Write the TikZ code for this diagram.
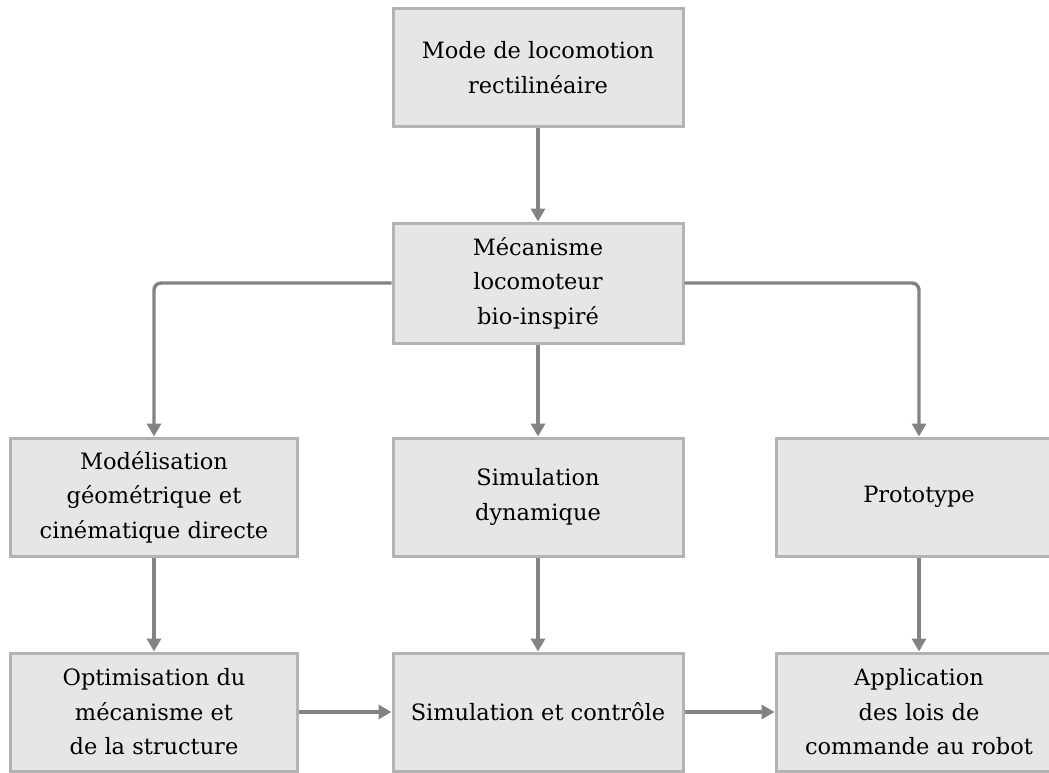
\documentclass[tikz,border=0pt]{standalone}
\usepackage{fontspec}
\setmainfont{DejaVu Serif}
\usetikzlibrary{arrows.meta}
\definecolor{boxfill}{HTML}{E6E6E6}
\definecolor{boxline}{HTML}{B3B3B3}
\definecolor{arrowcol}{HTML}{838383}
\tikzset{
  stepbox/.style={draw=boxline, fill=boxfill, line width=3pt, inner sep=0pt,
    align=center, font=\fontsize{22.5}{34.5}\selectfont},
  wideL/.style={minimum width=287pt},
  wideM/.style={minimum width=290pt},
  wideR/.style={minimum width=286pt},
  conn/.style={draw=arrowcol, line width=3.4pt, rounded corners=7pt,
    -{Triangle[length=13pt,width=14pt]}}
}
\begin{document}
\begin{tikzpicture}[x=1pt,y=-1pt]
\useasboundingbox (0,0) rectangle (1049,773);
\node[stepbox, wideM, minimum height=118.5pt] (top) at (538,67.75) {Mode de locomotion\\rectilinéaire};
\node[stepbox, wideM, minimum height=120pt] (meca) at (538,283) {Mécanisme\\locomoteur\\bio-inspiré};
\node[stepbox, wideL, minimum height=118pt] (model) at (154,497) {Modélisation\\géométrique et\\cinématique directe};
\node[stepbox, wideM, minimum height=118pt] (simdyn) at (538,497) {Simulation\\dynamique};
\node[stepbox, wideR, minimum height=118pt] (proto) at (919,497) {Prototype};
\node[stepbox, wideL, minimum height=118pt] (optim) at (154,712) {Optimisation du\\mécanisme et\\de la structure};
\node[stepbox, wideM, minimum height=118pt] (simctl) at (538,712) {Simulation et contrôle};
\node[stepbox, wideR, minimum height=118pt] (appli) at (919,712) {Application\\des lois de\\commande au robot};
\draw[conn] (top) -- (meca);
\draw[conn] (meca.west) -| (model.north);
\draw[conn] (meca) -- (simdyn);
\draw[conn] (meca.east) -| (proto.north);
\draw[conn] (model) -- (optim);
\draw[conn] (simdyn) -- (simctl);
\draw[conn] (proto) -- (appli);
\draw[conn] (optim) -- (simctl);
\draw[conn] (simctl) -- (appli);
\end{tikzpicture}
\end{document}
